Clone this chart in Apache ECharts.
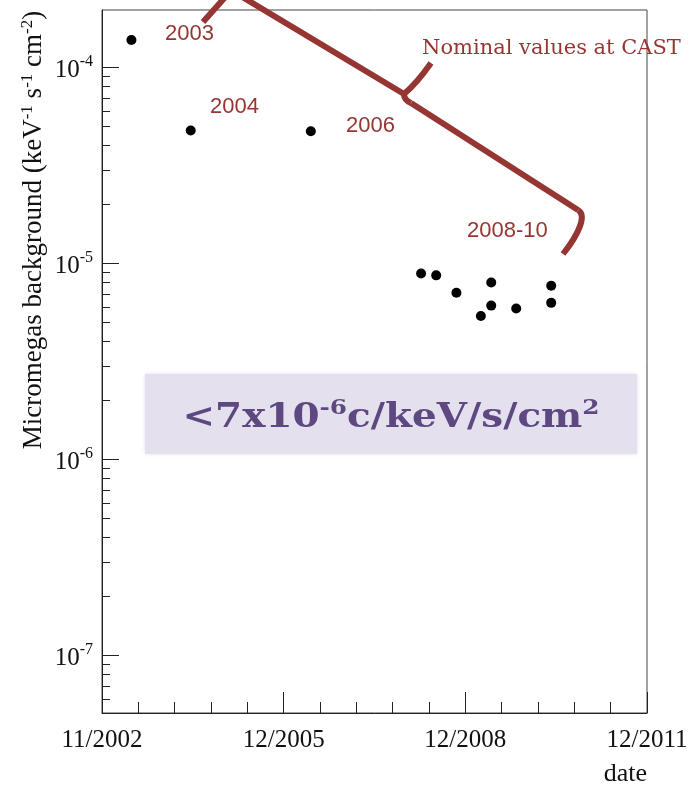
<!DOCTYPE html>
<html>
<head>
<meta charset="utf-8">
<title>Micromegas background at CAST</title>
<script src="https://cdn.jsdelivr.net/npm/echarts@6/dist/echarts.min.js"></script>
<style>
  html, body { margin: 0; padding: 0; background: #ffffff; }
  #chart { width: 698px; height: 787px; }
</style>
</head>
<body>
<div id="chart"></div>
<script>
// Measured background level of the CAST Micromegas detectors over time
const measurementDates = [
  '2003-04-29', '2004-04-24', '2006-04-25',
  '2008-02-25', '2008-05-27', '2008-09-27', '2009-02-23',
  '2009-04-27', '2009-04-27', '2009-09-26', '2010-04-27', '2010-04-27'
];
const backgroundLevels = [
  1.38e-4, 4.77e-5, 4.73e-5,
  8.9e-6, 8.7e-6, 7.1e-6, 5.4e-6,
  8.0e-6, 6.1e-6, 5.9e-6, 7.7e-6, 6.3e-6
];

// Axis extents and tick labels
const dateRange = ['2002-11-01', '2011-12-01'];
const dateTickLabels = ['11/2002', '12/2005', '12/2008', '12/2011'];
const minorPerMajor = 5;
const levelRange = [Math.pow(10, -7.293), Math.pow(10, -3.7067)];
const decadeTicks = [1e-7, 1e-6, 1e-5, 1e-4];

// Annotation texts
const periodLabels = ['2003', '2004', '2006', '2008-10'];
const braceLabel = 'Nominal values at CAST';

// Minor log ticks at 2..9 x 10^n inside the plotted range
const minorLevelTicks = [];
for (let e = -8; e <= -4; e++) {
  for (let k = 2; k <= 9; k++) {
    const v = k * Math.pow(10, e);
    if (v > levelRange[0] && v < levelRange[1]) minorLevelTicks.push(v);
  }
}

const INK = '#111111';
const RED = '#963633';
const SERIF = 'Liberation Serif';

const points = measurementDates.map((d, i) => [d, backgroundLevels[i]]);
const majorCount = dateTickLabels.length - 1;

const braceStyle = { fill: null, stroke: RED, lineWidth: 6, lineJoin: 'round', lineCap: 'butt' };

const option = {
  animation: false,
  backgroundColor: '#ffffff',
  grid: {
    left: 102, right: 51, top: 10, bottom: 72,
    show: true, borderColor: '#444444', borderWidth: 1,
    containLabel: false
  },
  xAxis: [
    {
      type: 'time', position: 'bottom',
      min: dateRange[0], max: dateRange[1],
      axisLine: { onZero: false, lineStyle: { color: '#222', width: 1 } },
      axisTick: { show: false }, axisLabel: { show: false },
      splitLine: { show: false }, minorTick: { show: false }
    },
    {
      type: 'value', position: 'bottom',
      min: 0, max: majorCount * minorPerMajor, interval: 1,
      axisLine: { show: false, onZero: false },
      axisTick: { show: true, inside: true, length: 11, lineStyle: { color: '#222', width: 1 } },
      axisLabel: { show: false }, splitLine: { show: false }
    },
    {
      type: 'value', position: 'bottom',
      min: 0, max: majorCount, interval: 1,
      axisLine: { show: false, onZero: false },
      axisTick: { show: true, inside: true, length: 21, lineStyle: { color: '#222', width: 1 } },
      axisLabel: {
        show: true, margin: 15, showMinLabel: true, showMaxLabel: true,
        fontFamily: SERIF, fontSize: 25, color: INK,
        formatter: (v) => dateTickLabels[Math.round(v)] || ''
      },
      splitLine: { show: false },
      name: 'date', nameLocation: 'end', nameGap: 0,
      nameTextStyle: {
        fontFamily: SERIF, fontSize: 26, color: INK,
        align: 'right', verticalAlign: 'top', padding: [48, 0, 0, 0]
      }
    }
  ],
  yAxis: [
    {
      type: 'log', position: 'left', logBase: 10,
      min: levelRange[0], max: levelRange[1],
      axisLine: { show: true, onZero: false, lineStyle: { color: '#222', width: 1 } },
      axisTick: { show: true, inside: true, length: 17, customValues: decadeTicks,
                  lineStyle: { color: '#222', width: 1 } },
      axisLabel: {
        show: true, margin: 9, customValues: decadeTicks,
        formatter: (v) => '{b|10}{s|' + Math.round(Math.log10(v)) + '}',
        rich: {
          b: { fontFamily: SERIF, fontSize: 25, color: INK, lineHeight: 28, padding: [6, 0, 0, 0] },
          s: { fontFamily: SERIF, fontSize: 16, color: INK, verticalAlign: 'top', lineHeight: 16 }
        }
      },
      splitLine: { show: false }, minorTick: { show: false }
    },
    {
      type: 'log', position: 'left', logBase: 10,
      min: levelRange[0], max: levelRange[1],
      axisLine: { show: false, onZero: false },
      axisTick: { show: true, inside: true, length: 8, customValues: minorLevelTicks,
                  lineStyle: { color: '#222', width: 1 } },
      axisLabel: { show: false },
      splitLine: { show: false }
    }
  ],
  series: [
    {
      name: 'Micromegas background',
      type: 'scatter',
      xAxisIndex: 0, yAxisIndex: 0,
      symbol: 'circle', symbolSize: 10,
      itemStyle: { color: '#000000', opacity: 1 },
      data: points,
      z: 5
    }
  ],
  graphic: [
    // y-axis title
    {
      type: 'text', x: 34, y: 230, rotation: Math.PI / 2,
      style: {
        text: '{t|Micromegas background (keV}{s|-1}{t| s}{s|-1}{t| cm}{s|-2}{t|)}',
        align: 'center', verticalAlign: 'middle',
        rich: {
          t: { fontFamily: SERIF, fontSize: 27, fill: INK, lineHeight: 30 },
          s: { fontFamily: SERIF, fontSize: 17, fill: INK, lineHeight: 17, verticalAlign: 'top' }
        }
      }
    },
    // highlighted target level
    {
      type: 'rect', z: 1,
      shape: { x: 145, y: 374, width: 492, height: 80 },
      style: { fill: '#e5e0ed', shadowBlur: 4, shadowColor: '#e5e0ed' }
    },
    {
      type: 'text', z: 2, x: 391, y: 418, scaleX: 1.18,
      style: {
        text: '{m|<7x10}{s|-6}{m|c/keV/s/cm}{s|2}',
        align: 'center', verticalAlign: 'middle',
        rich: {
          m: { fontFamily: 'DejaVu Serif', fontWeight: 'bold', fontSize: 33, fill: '#5e4882', lineHeight: 40 },
          s: { fontFamily: 'DejaVu Serif', fontWeight: 'bold', fontSize: 21, fill: '#5e4882', lineHeight: 21, verticalAlign: 'top' }
        }
      }
    },
    // period labels
    { type: 'text', x: 165, y: 34, style: { text: periodLabels[0], fontFamily: 'Liberation Sans', fontSize: 22, fill: RED, verticalAlign: 'middle' } },
    { type: 'text', x: 210, y: 107, style: { text: periodLabels[1], fontFamily: 'Liberation Sans', fontSize: 22, fill: RED, verticalAlign: 'middle' } },
    { type: 'text', x: 346, y: 126, style: { text: periodLabels[2], fontFamily: 'Liberation Sans', fontSize: 22, fill: RED, verticalAlign: 'middle' } },
    { type: 'text', x: 467, y: 231, style: { text: periodLabels[3], fontFamily: 'Liberation Sans', fontSize: 22, fill: RED, verticalAlign: 'middle' } },
    // brace label
    { type: 'text', x: 422, y: 49, z: 3, style: { text: braceLabel, fontFamily: 'DejaVu Serif', fontSize: 21, fill: RED, verticalAlign: 'middle' } },
    // curly brace grouping the periods
    { type: 'polyline', z: 3, shape: { points: [[203, 22], [228, -6], [234, -8], [404, 94]] }, style: braceStyle },
    { type: 'bezierCurve', z: 3, shape: { x1: 404, y1: 94, cpx1: 417, cpy1: 83, x2: 431, y2: 63 }, style: braceStyle },
    { type: 'bezierCurve', z: 3, shape: { x1: 404, y1: 94, cpx1: 404, cpy1: 100, x2: 411, y2: 103 }, style: braceStyle },
    { type: 'polyline', z: 3, shape: { points: [[411, 103], [578, 210]] }, style: braceStyle },
    { type: 'bezierCurve', z: 3, shape: { x1: 578, y1: 210, cpx1: 587, cpy1: 215, cpx2: 579, cpy2: 234, x2: 563, y2: 254 }, style: braceStyle }
  ]
};

const chart = echarts.init(document.getElementById('chart'), null, { renderer: 'canvas' });
chart.setOption(option);
</script>
</body>
</html>
